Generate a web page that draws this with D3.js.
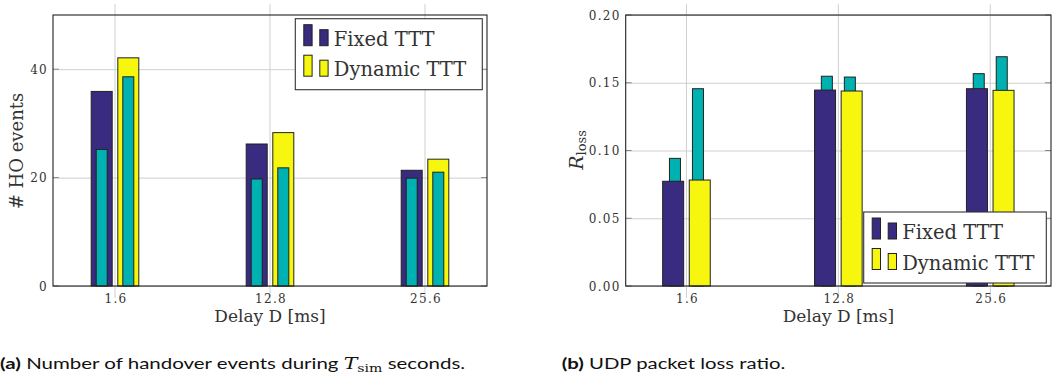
<!DOCTYPE html>
<html>
<head>
  <meta charset="utf-8">
  <script src="https://d3js.org/d3.v7.min.js"></script>
  <style>
    body { margin: 0; background: #fff; }
    svg text { fill: #333; }
    .gridlines line { stroke: #cfcfcf; }
    .gridlines .domain { stroke: none; }
  </style>
</head>
<body>
  <svg id="chart" width="1063" height="378"></svg>

  <script>
    // --- data
    const categories = ['1.6', '12.8', '25.6'];

    // (a) handover events
    const hoFixed = [35.9, 26.2, 21.35];
    const hoFixedInner = [25.2, 19.75, 19.9];
    const hoDynamic = [42.1, 28.3, 23.4];
    const hoDynamicInner = [38.6, 21.8, 21.0];
    const hoTicks = [0, 20, 40];

    // (b) packet loss ratio
    const lossFixed = [0.0773, 0.1446, 0.1456];
    const lossFixedExtra = [0.0942, 0.1548, 0.1567];
    const lossDynamic = [0.0782, 0.1439, 0.1444];
    const lossDynamicExtra = [0.1456, 0.1542, 0.1692];
    const lossTicks = [0, 0.05, 0.10, 0.15, 0.20];

    const legendLabels = ['Fixed TTT', 'Dynamic TTT'];

    const colors = { fixed: '#392b7f', dynamic: '#f6f60e', inner: '#00b1b1' };
    const serif = "'DejaVu Serif', serif";

    const svg = d3.select('svg#chart');

    function drawPanel(cfg) {
      const x = d3.scalePoint().domain(categories).range([cfg.left, cfg.right]).padding(0.4);
      const y = d3.scaleLinear().domain(cfg.domain).range([cfg.bottom, cfg.top]);
      const g = svg.append('g');

      // vertical gridlines (stick out above and below the frame)
      g.append('g').attr('class', 'gridlines')
        .selectAll('line').data(categories).join('line')
        .attr('x1', d => x(d)).attr('x2', d => x(d))
        .attr('y1', cfg.top - 11).attr('y2', cfg.bottom + 12);

      // horizontal gridlines
      let grid = d3.axisLeft(y).tickValues(cfg.ticks).tickFormat('').tickSize(-(cfg.right - cfg.left));
      g.append('g').attr('class', 'gridlines')
        .attr('transform', `translate(${cfg.left},0)`)
        .call(grid);

      // little tick marks on both sides
      g.selectAll('.tl').data(cfg.ticks).join('line')
        .attr('x1', cfg.left).attr('x2', cfg.left + 6)
        .attr('y1', d => y(d)).attr('y2', d => y(d))
        .attr('stroke', '#888');
      g.selectAll('.tr').data(cfg.ticks).join('line')
        .attr('x1', cfg.right - 6).attr('x2', cfg.right)
        .attr('y1', d => y(d)).attr('y2', d => y(d))
        .attr('stroke', '#888');

      const bw = 21, iw = 11;
      const series = [
        { vals: cfg.fixed, off: -13.3, w: bw, color: colors.fixed },
        { vals: cfg.dynamic, off: 13.3, w: bw, color: colors.dynamic },
        { vals: cfg.fixedInner, off: -cfg.innerOff, w: iw, color: colors.inner },
        { vals: cfg.dynamicInner, off: cfg.innerOff, w: iw, color: colors.inner }
      ];
      // in (b) the cyan bars sit behind, in (a) in front
      const order = cfg.innerBehind ? [2, 3, 0, 1] : [0, 1, 2, 3];
      order.forEach(k => {
        const s = series[k];
        g.selectAll(null).data(s.vals).join('rect')
          .attr('x', (d, i) => x(categories[i]) + s.off - s.w / 2)
          .attr('y', d => y(d))
          .attr('width', s.w)
          .attr('height', d => y(0) - y(d))
          .attr('fill', s.color)
          .attr('stroke', '#222')
          .attr('stroke-width', 1);
      });

      // frame
      g.append('rect')
        .attr('x', cfg.left).attr('y', cfg.top)
        .attr('width', cfg.right - cfg.left).attr('height', cfg.bottom - cfg.top)
        .attr('fill', 'none').attr('stroke', '#222').attr('stroke-width', 1.1);

      // tick labels
      g.selectAll('.yl').data(cfg.ticks).join('text')
        .attr('x', cfg.left - 5).attr('y', d => y(d) + 4.5)
        .attr('text-anchor', 'end')
        .style('font-family', serif).style('font-size', '12px').style('letter-spacing', '1.3px')
        .text(cfg.fmt);
      g.selectAll('.xl').data(categories).join('text')
        .attr('x', d => x(d) + 1).attr('y', cfg.bottom + 17)
        .attr('text-anchor', 'middle')
        .style('font-family', serif).style('font-size', '12px').style('letter-spacing', '1.3px')
        .text(d => d);

      // x label
      g.append('text')
        .attr('x', (cfg.left + cfg.right) / 2).attr('y', cfg.bottom + 36)
        .attr('text-anchor', 'middle')
        .style('font-family', serif).style('font-size', '17px')
        .text('Delay D [ms]');

      // legend
      const lg = g.append('g').attr('transform', `translate(${cfg.legend[0]},${cfg.legend[1]})`);
      lg.append('rect').attr('width', cfg.legend[2]).attr('height', 71)
        .attr('fill', '#fff').attr('stroke', '#333').attr('stroke-width', 1.1);
      [colors.fixed, colors.dynamic].forEach((c, i) => {
        const base = 27 + i * 30.5;
        lg.append('rect').attr('x', 8.5).attr('y', base - 21).attr('width', 8.3).attr('height', 21)
          .attr('fill', c).attr('stroke', '#222');
        lg.append('rect').attr('x', 24.5).attr('y', base - 16).attr('width', 8.3).attr('height', 16)
          .attr('fill', c).attr('stroke', '#222');
        lg.append('text').attr('x', 38.5).attr('y', base)
          .style('font-family', serif).style('font-size', '19.5px')
          .text(legendLabels[i]);
      });
      return g;
    }

    // (a)
    const ga = drawPanel({
      left: 53, right: 487, top: 15, bottom: 286,
      domain: [0, 50], ticks: hoTicks, fmt: d => d,
      fixed: hoFixed, dynamic: hoDynamic, fixedInner: hoFixedInner, dynamicInner: hoDynamicInner,
      innerOff: 13.3, innerBehind: false,
      legend: [295.3, 18.7, 187]
    });
    ga.append('text')
      .attr('transform', 'translate(23,151) rotate(-90)')
      .attr('text-anchor', 'middle')
      .style('font-family', serif).style('font-size', '18px')
      .text('# HO events');

    // (b)
    const gb = drawPanel({
      left: 625.7, right: 1051, top: 15, bottom: 286,
      domain: [0, 0.2], ticks: lossTicks, fmt: d3.format('.2f'),
      fixed: lossFixed, dynamic: lossDynamic, fixedInner: lossFixedExtra, dynamicInner: lossDynamicExtra,
      innerOff: 11.5, innerBehind: true,
      legend: [863.7, 212, 182.6]
    });
    const rl = gb.append('text')
      .attr('transform', 'translate(583,150) rotate(-90)')
      .attr('text-anchor', 'middle')
      .style('font-family', serif);
    rl.append('tspan').style('font-style', 'italic').style('font-size', '19px').text('R');
    rl.append('tspan').style('font-size', '13px').attr('dy', 3).text('loss');

    // captions (the source is stretched sideways a bit)
    const capFont = "Lato, 'Open Sans', sans-serif";
    const ca = svg.append('text').attr('transform', 'translate(0,369) scale(1.28,1)')
      .style('font-family', capFont).style('font-size', '16px');
    ca.append('tspan').style('font-weight', 'bold').style('fill', '#111').text('(a)');
    ca.append('tspan').style('fill', '#111').text(' Number of handover events during ');
    ca.append('tspan').style('font-family', serif).style('font-style', 'italic').style('fill', '#111').text('T');
    ca.append('tspan').style('font-family', serif).style('font-size', '11px').style('fill', '#111').attr('dy', 3).text('sim');
    ca.append('tspan').style('fill', '#111').attr('dy', -3).text(' seconds.');

    const cb = svg.append('text').attr('transform', 'translate(561.7,369) scale(1.27,1)')
      .style('font-family', capFont).style('font-size', '16px');
    cb.append('tspan').style('font-weight', 'bold').style('fill', '#111').text('(b)');
    cb.append('tspan').style('fill', '#111').text(' UDP packet loss ratio.');
  </script>
</body>
</html>
